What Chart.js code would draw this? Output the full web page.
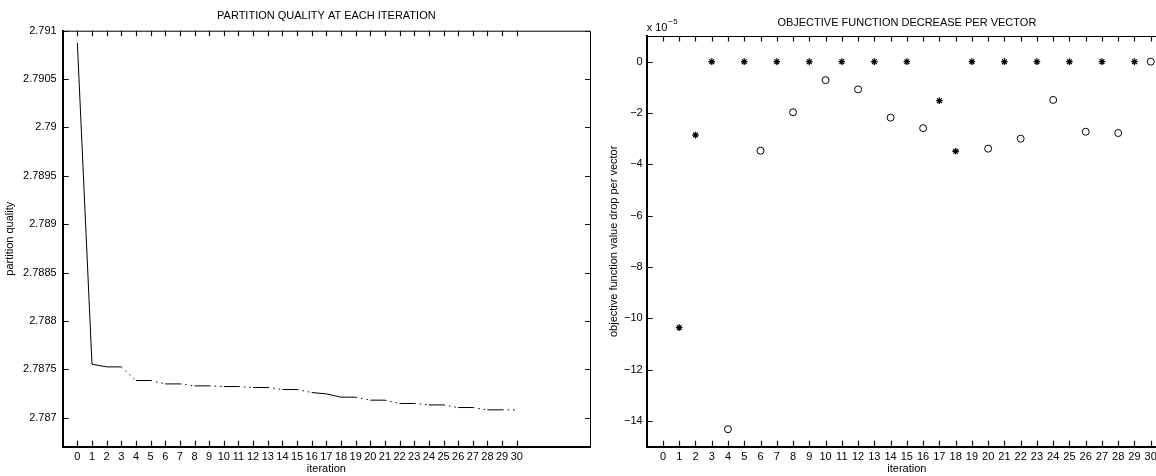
<!DOCTYPE html>
<html><head><meta charset="utf-8">
<script src="https://cdn.jsdelivr.net/npm/chart.js@4.4.1/dist/chart.umd.min.js"></script>
<style>
html,body{margin:0;padding:0;background:#fff;overflow:hidden;width:1156px;height:476px;position:relative;}
#c1{position:absolute;left:0;top:0;}
#c2{position:absolute;left:596px;top:0;}
</style></head><body>
<canvas id="c1" width="600" height="476"></canvas>
<canvas id="c2" width="600" height="476"></canvas>
<script>
// ---- data ----
const iterations = [0,1,2,3,4,5,6,7,8,9,10,11,12,13,14,15,16,17,18,19,20,21,22,23,24,25,26,27,28,29,30];
const partitionQuality = [2.790876,2.787553,2.787525,2.787525,2.787384,2.787384,2.787349,2.787349,2.787329,2.787329,
  2.787322,2.787322,2.787312,2.787312,2.787291,2.787291,2.787260,2.787246,2.787212,2.787212,
  2.787181,2.787181,2.787147,2.787147,2.787132,2.787132,2.787105,2.787105,2.787081,2.787081,2.787081];
const qualityTicks = [2.787,2.7875,2.788,2.7885,2.789,2.7895,2.79,2.7905,2.791];

// objective function drop per vector, in units of 1e-5
const starIterations = [1,2,3,5,7,9,11,13,15,17,18,19,21,23,25,27,29];
const starDrops      = [-10.36,-2.86,0,0,0,0,0,0,0,-1.52,-3.49,0,0,0,0,0,0];
const circleIterations = [4,6,8,10,12,14,16,20,22,24,26,28,30];
const circleDrops      = [-14.32,-3.47,-1.97,-0.72,-1.08,-2.18,-2.59,-3.39,-3.0,-1.49,-2.73,-2.78,0];
const dropTicks = [-14,-12,-10,-8,-6,-4,-2,0];

Chart.defaults.font.family = '"Liberation Sans", Arial, Helvetica, sans-serif';
Chart.defaults.font.size = 11;
Chart.defaults.color = '#000';

const boxTicks = {
  id: 'boxTicks',
  afterDraw(chart) {
    const {ctx, chartArea: a} = chart;
    const xs = chart.scales.x, ys = chart.scales.y;
    ctx.save();
    ctx.strokeStyle = '#000';
    ctx.lineWidth = 1;
    ctx.setLineDash([]);
    ctx.beginPath();
    ctx.moveTo(a.left, a.top + 0.5);
    ctx.lineTo(a.right + 0.5, a.top + 0.5);
    ctx.lineTo(a.right + 0.5, a.bottom);
    ctx.stroke();
    const L = 5;
    ctx.strokeStyle = '#111';
    ctx.lineWidth = 1.2;
    ctx.beginPath();
    xs.ticks.forEach(t => {
      const px = Math.round(xs.getPixelForValue(t.value)) + 0.5;
      ctx.moveTo(px, a.bottom - 1); ctx.lineTo(px, a.bottom - 1 - L);
      ctx.moveTo(px, a.top); ctx.lineTo(px, a.top + L + 0.5);
    });
    ys.ticks.forEach(t => {
      const py = Math.round(ys.getPixelForValue(t.value)) + 0.5;
      ctx.moveTo(a.left, py); ctx.lineTo(a.left + L + 1, py);
      ctx.moveTo(a.right, py); ctx.lineTo(a.right - L, py);
    });
    ctx.stroke();
    ctx.restore();
  }
};

const exponentLabel = {
  id: 'exponentLabel',
  afterDraw(chart) {
    const {ctx, chartArea: a} = chart;
    ctx.save();
    ctx.fillStyle = '#000';
    ctx.textBaseline = 'alphabetic';
    ctx.textAlign = 'left';
    ctx.font = '11px "Liberation Sans", Arial, sans-serif';
    const base = 'x 10';
    ctx.fillText(base, a.left, a.top - 5);
    const w = ctx.measureText(base).width;
    ctx.font = '8px "Liberation Sans", Arial, sans-serif';
    ctx.fillText('\u22125', a.left + w + 1, a.top - 12);
    ctx.restore();
  }
};

function xScale(min, max) {
  return {
    type: 'linear', min: min, max: max, bounds: 'data',
    afterBuildTicks: s => { s.ticks = iterations.map(v => ({value: v})); },
    afterFit: s => { s.height = 29.3; },
    grid: {display: false, drawTicks: false, tickLength: 0},
    border: {display: true, color: '#000', width: 2},
    ticks: {autoSkip: false, maxRotation: 0, minRotation: 0, padding: 4, color: '#000', callback: v => String(v)},
    title: {display: true, text: 'iteration', color: '#000', padding: {top: 0, bottom: 0}}
  };
}

const dottedSegments = [3,5,7,9,11,13,15,19,21,23,25,27,29];

new Chart(document.getElementById('c1'), {
  type: 'line',
  data: {
    datasets: [{
      data: iterations.map((x, i) => ({x: x, y: partitionQuality[i]})),
      borderColor: '#000',
      borderWidth: 1,
      pointRadius: 0,
      tension: 0,
      fill: false,
      segment: {
        borderDash: c => dottedSegments.includes(c.p0DataIndex) ? [1.5, 4] : undefined
      }
    }]
  },
  options: {
    responsive: false, animation: false, devicePixelRatio: 1,
    layout: {padding: {left: 0, right: 10, top: 0, bottom: 0}},
    plugins: {
      legend: {display: false}, tooltip: {enabled: false},
      title: {display: true, text: 'PARTITION QUALITY AT EACH ITERATION', fullSize: false, color: '#000',
        font: {size: 11, weight: 'normal'}, padding: {top: 9.4, bottom: 8.1}}
    },
    scales: {
      x: xScale(-1, 35),
      y: {
        type: 'linear', min: 2.7867, max: 2.791, bounds: 'data',
        afterBuildTicks: s => { s.ticks = qualityTicks.map(v => ({value: v})); },
        afterFit: s => { s.width = 62.7; },
        grid: {display: false, drawTicks: false, tickLength: 0},
        border: {display: true, color: '#000', width: 2},
        ticks: {padding: 6, color: '#000', callback: v => String(Number(v.toFixed(4)))},
        title: {display: true, text: 'partition quality', color: '#000', padding: {top: 3.4, bottom: 0}}
      }
    }
  },
  plugins: [boxTicks]
});

new Chart(document.getElementById('c2'), {
  type: 'scatter',
  data: {
    datasets: [
      {
        data: starIterations.map((x, i) => ({x: x, y: starDrops[i]})),
        pointStyle: 'star', pointRadius: 3.3, borderWidth: 1.3,
        borderColor: '#000', backgroundColor: '#000'
      },
      {
        data: circleIterations.map((x, i) => ({x: x, y: circleDrops[i]})),
        pointStyle: 'circle', pointRadius: 3.5, borderWidth: 1,
        borderColor: '#000', backgroundColor: 'rgba(255,255,255,0)'
      }
    ]
  },
  options: {
    responsive: false, animation: false, devicePixelRatio: 1,
    layout: {padding: {left: 0, right: 29, top: 0, bottom: 0}},
    plugins: {
      legend: {display: false}, tooltip: {enabled: false},
      title: {display: true, text: 'OBJECTIVE FUNCTION DECREASE PER VECTOR', fullSize: false, color: '#000',
        font: {size: 11, weight: 'normal'}, padding: {top: 16.4, bottom: 6.4}}
    },
    scales: {
      x: xScale(-1, 31),
      y: {
        type: 'linear', min: -15, max: 1, bounds: 'data',
        afterBuildTicks: s => { s.ticks = dropTicks.map(v => ({value: v})); },
        afterFit: s => { s.width = 50.7; },
        grid: {display: false, drawTicks: false, tickLength: 0},
        border: {display: true, color: '#000', width: 2},
        ticks: {padding: 4, color: '#000', callback: v => v < 0 ? '\u2212' + Math.abs(v) : String(v)},
        title: {display: true, text: 'objective function value drop per vector', color: '#000', padding: {top: 10.9, bottom: 0}}
      }
    }
  },
  plugins: [boxTicks, exponentLabel]
});
</script>
</body></html>
